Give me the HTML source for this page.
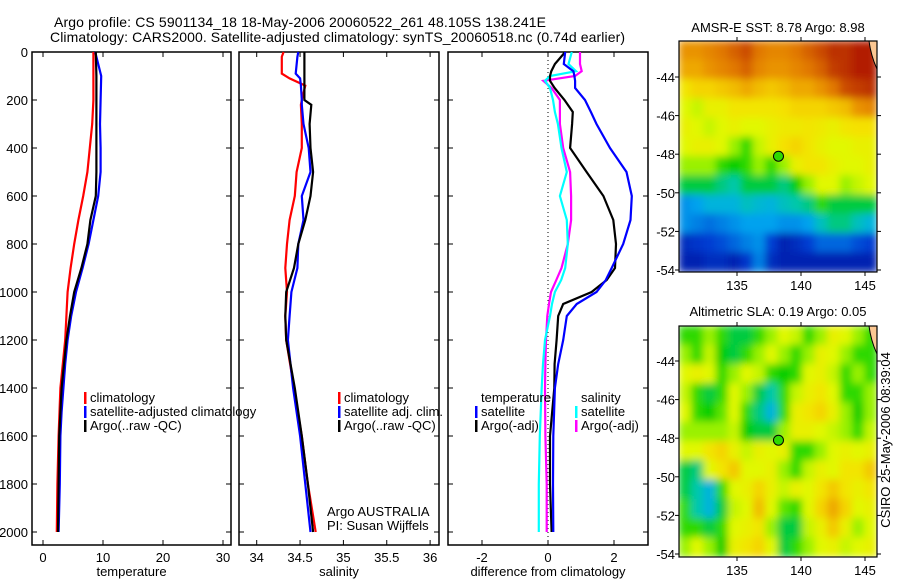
<!DOCTYPE html>
<html><head><meta charset="utf-8"><style>
html,body{margin:0;padding:0;background:#fff}
svg{display:block;font-family:"Liberation Sans",sans-serif}
</style></head><body>
<svg id="fig" width="900" height="580" viewBox="0 0 900 580">
<defs>
<filter id="blur" x="0" y="0" width="1" height="1"><feGaussianBlur stdDeviation="4" edgeMode="duplicate"/></filter>
<clipPath id="clipA"><rect x="679" y="41" width="198" height="232"/></clipPath>
<clipPath id="clipB"><rect x="679" y="326" width="198" height="231"/></clipPath>
</defs>
<text x="54" y="27" font-size="14" textLength="492">Argo profile: CS 5901134_18 18-May-2006 20060522_261 48.105S 138.241E</text>
<text x="50" y="42" font-size="14" textLength="575">Climatology: CARS2000. Satellite-adjusted climatology: synTS_20060518.nc (0.74d earlier)</text>
<text x="778" y="32" font-size="13" text-anchor="middle">AMSR-E SST: 8.78 Argo: 8.98</text>
<text x="778" y="316" font-size="13" text-anchor="middle">Altimetric SLA: 0.19 Argo: 0.05</text>
<text transform="translate(890,440) rotate(-90)" font-size="13" text-anchor="middle">CSIRO 25-May-2006 08:39:04</text>
<g id="plots"></g>
</svg>
<script>
// depth axis (shared)
const depthTicks = [0,200,400,600,800,1000,1200,1400,1600,1800,2000];
// temperature panel
const tDepth = [0,100,200,300,400,500,600,700,800,900,1000,1100,1200,1300,1400,1500,1600,1700,1800,1900,2000];
const tClim  = [8.4,8.4,8.4,8.2,7.8,7.4,6.7,5.9,5.2,4.6,4.1,3.9,3.7,3.3,2.9,2.75,2.6,2.5,2.4,2.35,2.3];
const tSat   = [8.7,9.7,9.6,9.5,9.6,9.6,9.2,8.4,7.6,6.6,5.5,4.7,4.1,3.7,3.4,3.1,2.9,2.85,2.8,2.7,2.6];
const tArgo  = [8.8,8.9,8.9,8.9,8.9,8.9,8.8,7.9,7.4,6.4,5.2,4.5,3.9,3.5,3.1,2.9,2.7,2.65,2.6,2.55,2.5];
const tTicks = [0,10,20,30];
// salinity panel
const sDepth = [0,20,90,110,140,200,220,300,400,500,600,700,800,900,1000,1100,1200,1400,1600,1800,2000];
const sClim  = [34.31,34.29,34.29,34.38,34.56,34.52,34.51,34.52,34.52,34.46,34.44,34.38,34.35,34.33,34.35,34.33,34.34,34.43,34.52,34.59,34.68];
const sSat   = [34.48,34.47,34.45,34.5,34.51,34.52,34.52,34.54,34.6,34.62,34.52,34.54,34.48,34.47,34.4,34.38,34.36,34.42,34.5,34.56,34.62];
const sArgo  = [34.55,34.55,34.55,34.55,34.55,34.55,34.63,34.61,34.62,34.65,34.62,34.56,34.48,34.43,34.34,34.33,34.34,34.44,34.52,34.59,34.65];
const sTicks = [34,34.5,35,35.5,36];
// difference panel
const dDepth = [0,50,80,100,120,150,200,250,300,400,500,600,700,800,900,950,1000,1050,1100,1200,1300,1400,1600,1800,2000];
const dTSat  = [0.52,0.48,0.77,0.8,0.82,0.82,1.12,1.3,1.47,1.88,2.38,2.54,2.5,2.28,1.93,1.75,1.47,0.87,0.57,0.46,0.31,0.21,0.16,0.15,0.16];
const dTArgo = [0.52,0.21,0.1,0.06,0.06,0.2,0.5,0.75,0.73,0.67,1.17,1.68,1.98,2.06,2.03,1.78,1.32,0.46,0.31,0.26,0.2,0.19,0.06,0.06,0.11];
const dSSat  = [0.72,0.62,0.85,0.06,-0.09,0.06,0.15,0.21,0.3,0.41,0.57,0.36,0.57,0.6,0.52,0.4,0.21,0.12,0.06,-0.09,-0.15,-0.19,-0.25,-0.28,-0.28];
const dSArgo = [0.97,0.97,1.02,0.82,-0.14,0.11,0.36,0.36,0.36,0.46,0.67,0.7,0.7,0.6,0.41,0.25,0.09,0.03,-0.02,-0.06,-0.08,-0.09,-0.08,-0.04,-0.04];
const dTicks = [-2,0,2];
// maps
const lonTicks = [135,140,145];
const latTicks = [-44,-46,-48,-50,-52,-54];
const sstGrid = [
[.78,.78,.8,.82,.85,.88,.82,.8,.8,.82,.85,.88,.92,.92,.95,.95],
[.75,.75,.78,.8,.82,.85,.8,.78,.78,.8,.82,.85,.9,.92,.95,.95],
[.65,.68,.68,.7,.72,.75,.72,.7,.72,.75,.75,.78,.82,.88,.9,.92],
[.6,.58,.62,.62,.65,.65,.65,.65,.66,.68,.68,.68,.7,.72,.78,.8],
[.62,.6,.58,.6,.62,.6,.6,.62,.64,.64,.65,.64,.62,.65,.66,.66],
[.6,.62,.62,.6,.55,.5,.58,.62,.66,.68,.65,.62,.6,.6,.62,.62],
[.55,.55,.55,.5,.48,.5,.55,.5,.55,.62,.65,.65,.62,.6,.6,.62],
[.45,.45,.45,.42,.4,.45,.45,.45,.42,.48,.55,.6,.6,.55,.58,.6],
[.3,.32,.35,.35,.35,.38,.36,.35,.38,.4,.42,.5,.45,.45,.45,.45],
[.3,.28,.26,.28,.3,.32,.32,.32,.3,.3,.32,.38,.42,.42,.38,.35],
[.15,.18,.2,.22,.25,.28,.3,.2,.12,.15,.2,.25,.25,.25,.22,.2],
[.12,.12,.15,.15,.12,.18,.28,.15,.12,.12,.12,.12,.12,.12,.12,.12]];
const slaGrid = [
[.5,.5,.55,.5,.45,.45,.5,.55,.6,.58,.5,.55,.62,.6,.55,.5],
[.55,.5,.58,.48,.45,.5,.55,.6,.55,.5,.55,.62,.6,.55,.5,.5],
[.6,.62,.6,.5,.55,.6,.58,.5,.48,.5,.6,.62,.58,.5,.55,.5],
[.58,.5,.45,.5,.6,.55,.45,.4,.5,.58,.62,.65,.6,.5,.5,.55],
[.6,.5,.48,.52,.6,.5,.42,.35,.5,.62,.65,.68,.62,.55,.48,.55],
[.55,.55,.55,.55,.58,.48,.45,.45,.55,.62,.62,.6,.58,.55,.5,.58],
[.6,.6,.65,.68,.62,.58,.62,.6,.62,.5,.5,.55,.6,.62,.6,.62],
[.45,.42,.6,.65,.7,.6,.6,.62,.55,.5,.58,.62,.6,.65,.65,.7],
[.45,.4,.35,.5,.6,.62,.68,.62,.58,.62,.6,.65,.7,.65,.62,.65],
[.5,.4,.35,.45,.58,.6,.72,.6,.52,.5,.6,.68,.75,.68,.6,.62],
[.5,.5,.45,.5,.6,.62,.65,.55,.45,.45,.58,.62,.7,.62,.55,.6],
[.55,.6,.55,.48,.62,.65,.68,.6,.45,.5,.55,.6,.62,.58,.6,.62]];
const argoLon = 138.241, argoLat = -48.105;

const NS='http://www.w3.org/2000/svg';
const root=document.getElementById('plots');
function mk(tag,attrs,parent){const e=document.createElementNS(NS,tag);for(const k in attrs)e.setAttribute(k,attrs[k]);(parent||root).appendChild(e);return e;}
const Y0=52,Y1=545;
const yD=d=>52+0.24*d;

function panel(name,x0,x1,xs,ticks,xlabel,showY){
  const g=mk('g',{});
  
  
  mk('rect',{x:x0,y:Y0,width:x1-x0,height:Y1-Y0,fill:'none',stroke:'#000','stroke-width':1.5},g);
  depthTicks.forEach(d=>{
    const y=yD(d);
    mk('line',{x1:x0,x2:x0+5,y1:y,y2:y,stroke:'#000'},g);
    mk('line',{x1:x1-5,x2:x1,y1:y,y2:y,stroke:'#000'},g);
    if(showY){const t=mk('text',{x:x0-4,y:y+5,'font-size':13,'text-anchor':'end'},g);t.textContent=d;
      
      }
  });
  ticks.forEach(v=>{
    const x=xs(v);
    mk('line',{x1:x,x2:x,y1:Y0,y2:Y0+5,stroke:'#000'},g);
    mk('line',{x1:x,x2:x,y1:Y1-5,y2:Y1,stroke:'#000'},g);
    const t=mk('text',{x:x,y:562,'font-size':13,'text-anchor':'middle'},g);t.textContent=v;
    
    
  });
  const t=mk('text',{x:(x0+x1)/2,y:576,'font-size':13,'text-anchor':'middle'},g);t.textContent=xlabel;
  
  
  return g;
}
function line(g,xs,vals,depths,color,name){
  const p=mk('polyline',{points:vals.map((v,i)=>xs(v).toFixed(1)+','+yD(depths[i]).toFixed(1)).join(' '),fill:'none',stroke:color,'stroke-width':2.2},g);
  
  
}
function legend(g,x,y,color,label,name){
  if(color) mk('rect',{x:x-6,y:y-10,width:2.5,height:12,fill:color},g);
  const t=mk('text',{x:x,y:y,'font-size':13},g);t.textContent=label;
  
  
}
// Panel 1
const xT=v=>43+6*v;
const g1=panel('temperature',32,231,xT,tTicks,'temperature',true);
line(g1,xT,tClim,tDepth,'#f00','temp-climatology-line');
line(g1,xT,tSat,tDepth,'#00f','temp-satellite-line');
line(g1,xT,tArgo,tDepth,'#000','temp-argo-line');
legend(g1,90,402,'#f00','climatology','legend-climatology');
legend(g1,90,416,'#00f','satellite-adjusted climatology','legend-satellite');
legend(g1,90,430,'#000','Argo(..raw -QC)','legend-argo');
// Panel 2
const xS=v=>256.7+86.7*(v-34);
const g2=panel('salinity',239,439,xS,sTicks,'salinity',false);
line(g2,xS,sClim,sDepth,'#f00','sal-climatology-line');
line(g2,xS,sSat,sDepth,'#00f','sal-satellite-line');
line(g2,xS,sArgo,sDepth,'#000','sal-argo-line');
legend(g2,344,402,'#f00','climatology','legend-climatology');
legend(g2,344,416,'#00f','satellite adj. clim.','legend-satellite');
legend(g2,344,430,'#000','Argo(..raw -QC)','legend-argo');
legend(g2,327,516,null,'Argo AUSTRALIA','argo-australia-label');
legend(g2,327,530,null,'PI: Susan Wijffels','pi-label');
// Panel 3
const xDf=v=>548+33*v;
const g3=panel('difference',448,648,xDf,dTicks,'difference from climatology',false);
mk('line',{x1:xDf(0),x2:xDf(0),y1:Y0,y2:Y1,stroke:'#000','stroke-dasharray':'1,3'},g3);
line(g3,xDf,dSArgo,dDepth,'#f0f','diff-sal-argo-line');
line(g3,xDf,dSSat,dDepth,'#0ff','diff-sal-satellite-line');
line(g3,xDf,dTArgo,dDepth,'#000','diff-temp-argo-line');
line(g3,xDf,dTSat,dDepth,'#00f','diff-temp-satellite-line');
legend(g3,481,402,null,'temperature','legend-temperature-header');
legend(g3,481,416,'#00f','satellite','legend-temp-satellite');
legend(g3,481,430,'#000','Argo(-adj)','legend-temp-argo');
legend(g3,581,402,null,'salinity','legend-salinity-header');
legend(g3,581,416,'#0ff','satellite','legend-sal-satellite');
legend(g3,581,430,'#f0f','Argo(-adj)','legend-sal-argo');

// colormap
const stops=[[0,[0,0,128]],[.2,[0,60,210]],[.33,[0,170,240]],[.4,[0,200,170]],[.48,[0,205,0]],[.54,[140,240,0]],[.6,[225,248,0]],[.66,[245,225,0]],[.74,[240,175,0]],[.82,[225,120,0]],[.9,[195,60,0]],[1,[160,0,0]]];
function cmap(v){for(let i=1;i<stops.length;i++){if(v<=stops[i][0]){const a=stops[i-1],b=stops[i],t=(v-a[0])/(b[0]-a[0]);return 'rgb('+a[1].map((c,k)=>Math.round(c+(b[1][k]-c)*t)).join(',')+')';}}return 'rgb(160,0,0)';}

function map(name,top,grid,clip){
  const x0=679,x1=877,bottom=top+231;
  const xL=lon=>737+12.8*(lon-135);
  const yL=lat=>top+(lat-(-44))*-19.3+ (top===41?36:35);
  const g=mk('g',{});
  
  
  const cg=mk('g',{'clip-path':'url(#'+clip+')'},g);
  const inner=mk('g',{filter:'url(#blur)'},cg);
  const rows=grid.length,cols=grid[0].length,cw=(x1-x0)/cols,ch=(bottom-top)/rows;
  grid.forEach((r,i)=>r.forEach((v,j)=>{
    const c=mk('rect',{x:x0+j*cw-0.5,y:top+i*ch-0.5,width:cw+1,height:ch+1,fill:cmap(v)},inner);
    
    
  }));
  mk('path',{d:`M${x1-8},${top} L${x1},${top} L${x1},${top+28} Q${x1-6},${top+15} ${x1-8},${top}Z`,fill:'#fbc792',stroke:'#000','stroke-width':1},cg);
  mk('rect',{x:x0,y:top,width:x1-x0,height:bottom-top,fill:'none',stroke:'#000','stroke-width':1.2},g);
  lonTicks.forEach(l=>{const x=xL(l);
    mk('line',{x1:x,x2:x,y1:top-4,y2:top,stroke:'#000'},g);
    mk('line',{x1:x,x2:x,y1:bottom,y2:bottom+4,stroke:'#000'},g);
    const t=mk('text',{x:x,y:bottom+18,'font-size':13,'text-anchor':'middle'},g);t.textContent=l;
    
    });
  latTicks.forEach(l=>{const y=yL(l);
    mk('line',{x1:x0-4,x2:x0,y1:y,y2:y,stroke:'#000'},g);
    mk('line',{x1:x1,x2:x1+4,y1:y,y2:y,stroke:'#000'},g);
    const t=mk('text',{x:x0-4,y:y+5,'font-size':13,'text-anchor':'end'},g);t.textContent=l;
    
    });
  const m=mk('circle',{cx:xL(argoLon),cy:yL(argoLat),r:5,fill:cmap(.5),stroke:'#000','stroke-width':1},g);
  
  
}
map('sst-map',41,sstGrid,'clipA');
map('sla-map',326,slaGrid,'clipB');
</script>
</body></html>
